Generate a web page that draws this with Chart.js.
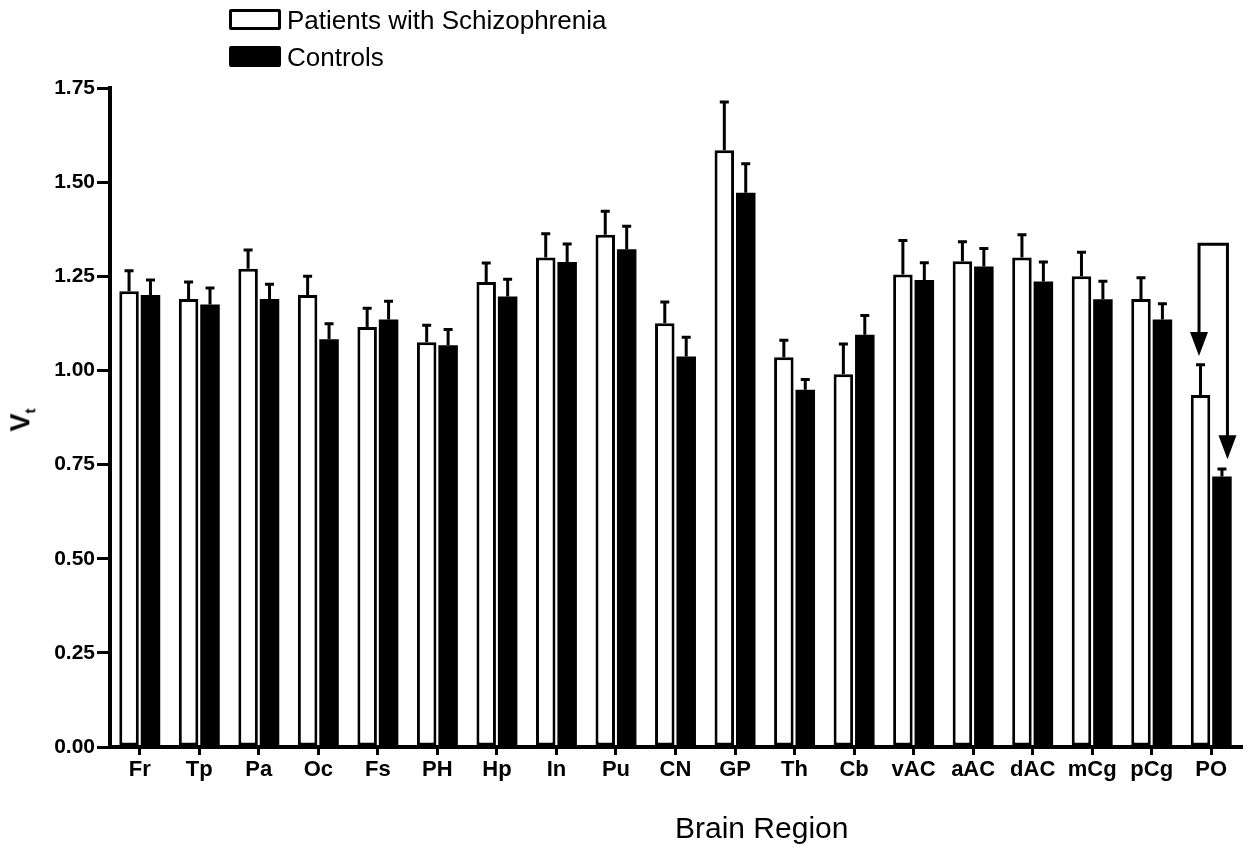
<!DOCTYPE html>
<html>
<head>
<meta charset="utf-8">
<title>Vt by brain region</title>
<script src="https://cdn.jsdelivr.net/npm/chart.js@4.4.1/dist/chart.umd.min.js"></script>
<style>
  html, body { margin: 0; padding: 0; background: #fff; }
  #wrap { position: relative; width: 1257px; height: 848px; font-family: "Liberation Sans", Arial, sans-serif; color: #000; }
  #chart { position: absolute; left: 0; top: 0; }
  .legend-box { position: absolute; left: 229px; width: 52px; height: 21px; box-sizing: border-box; border: 3px solid #000; border-radius: 2px; }
  .legend-text { position: absolute; left: 287px; font-size: 26px; line-height: 26px; white-space: nowrap; }
  #ytitle { position: absolute; left: 22px; top: 420px; transform: translate(-50%, -50%) rotate(-90deg); font-size: 27px; font-weight: bold; white-space: nowrap; }
  #ytitle sub { font-size: 15px; }
  #xtitle { position: absolute; left: 675px; top: 812px; font-size: 30px; line-height: 32px; white-space: nowrap; }
</style>
</head>
<body>
<div id="wrap">
  <canvas id="chart" width="1257" height="848"></canvas>
  <div class="legend-box" style="top:9px;background:#fff;"></div>
  <div class="legend-text" style="top:7px;">Patients with Schizophrenia</div>
  <div class="legend-box" style="top:46px;background:#000;"></div>
  <div class="legend-text" style="top:44px;">Controls</div>
  <div id="ytitle">V<sub>t</sub></div>
  <div id="xtitle">Brain Region</div>
</div>
<script>
// regiões cerebrais (eixo x)
const regions = ["Fr", "Tp", "Pa", "Oc", "Fs", "PH", "Hp", "In", "Pu", "CN", "GP", "Th", "Cb", "vAC", "aAC", "dAC", "mCg", "pCg", "PO"];

// médias de Vt e erro padrão (só a barra superior é desenhada)
const patients    = [1.21, 1.19, 1.27, 1.20, 1.115, 1.075, 1.235, 1.30, 1.36, 1.125, 1.585, 1.035, 0.99, 1.255, 1.29, 1.30, 1.25, 1.19, 0.935];
const patientsErr = [0.055, 0.045, 0.05, 0.05, 0.05, 0.045, 0.05, 0.063, 0.063, 0.057, 0.128, 0.045, 0.08, 0.09, 0.052, 0.06, 0.064, 0.056, 0.08];
const controls    = [1.20, 1.175, 1.19, 1.083, 1.135, 1.067, 1.196, 1.288, 1.322, 1.037, 1.472, 0.949, 1.095, 1.24, 1.276, 1.236, 1.189, 1.135, 0.718];
const controlsErr = [0.04, 0.044, 0.039, 0.041, 0.049, 0.042, 0.046, 0.048, 0.061, 0.051, 0.077, 0.027, 0.051, 0.046, 0.048, 0.052, 0.048, 0.042, 0.02];

// ticks do eixo y
const yTicks = [0, 0.25, 0.5, 0.75, 1.0, 1.25, 1.5, 1.75];

// colchete com setas sobre PO (valores em Vt)
const bracketRegion = "PO";
const bracketTop = 1.335;
const arrowTips = [1.038, 0.764];

const errors = [patientsErr, controlsErr];

// Barras de erro (só para cima, com "chapéu")
const errorBarsPlugin = {
  id: "errorBars",
  afterDatasetsDraw(chart) {
    const ctx = chart.ctx;
    const y = chart.scales.y;
    ctx.save();
    ctx.strokeStyle = "#000";
    ctx.lineWidth = 3;
    chart.data.datasets.forEach((ds, i) => {
      const meta = chart.getDatasetMeta(i);
      meta.data.forEach((bar, j) => {
        const top = y.getPixelForValue(ds.data[j] + errors[i][j]);
        ctx.beginPath();
        ctx.moveTo(bar.x, bar.y);
        ctx.lineTo(bar.x, top);
        ctx.moveTo(bar.x - 4.5, top);
        ctx.lineTo(bar.x + 4.5, top);
        ctx.stroke();
      });
    });
    ctx.restore();
  }
};

// Colchete e setas apontando para as duas barras de PO
const bracketPlugin = {
  id: "bracket",
  afterDatasetsDraw(chart) {
    const ctx = chart.ctx;
    const y = chart.scales.y;
    const idx = regions.indexOf(bracketRegion);
    const xs = [chart.getDatasetMeta(0).data[idx].x - 1.5, chart.getDatasetMeta(1).data[idx].x + 5.5];
    const yTop = y.getPixelForValue(bracketTop);
    ctx.save();
    ctx.strokeStyle = "#000";
    ctx.fillStyle = "#000";
    ctx.lineWidth = 3;
    ctx.beginPath();
    ctx.moveTo(xs[0], y.getPixelForValue(arrowTips[0]) - 20);
    ctx.lineTo(xs[0], yTop);
    ctx.lineTo(xs[1], yTop);
    ctx.lineTo(xs[1], y.getPixelForValue(arrowTips[1]) - 20);
    ctx.stroke();
    xs.forEach((x, k) => {
      const tip = y.getPixelForValue(arrowTips[k]);
      ctx.beginPath();
      ctx.moveTo(x - 9, tip - 24);
      ctx.lineTo(x + 9, tip - 24);
      ctx.lineTo(x, tip);
      ctx.closePath();
      ctx.fill();
    });
    ctx.restore();
  }
};

const ctx = document.getElementById("chart").getContext("2d");
new Chart(ctx, {
  type: "bar",
  data: {
    labels: regions,
    datasets: [
      {
        label: "Patients with Schizophrenia",
        data: patients,
        backgroundColor: "#fff",
        borderColor: "#000",
        borderWidth: 3,
        borderSkipped: false
      },
      {
        label: "Controls",
        data: controls,
        backgroundColor: "#000",
        borderWidth: 0
      }
    ]
  },
  options: {
    responsive: false,
    animation: false,
    layout: { padding: { top: 88, right: 16, left: 0, bottom: 0 } },
    datasets: { bar: { categoryPercentage: 0.72, barPercentage: 0.91 } },
    plugins: { legend: { display: false }, tooltip: { enabled: false } },
    scales: {
      x: {
        afterFit(scale) { scale.height = 101; },
        grid: { offset: false, drawOnChartArea: false, color: "#000", lineWidth: 3, tickLength: 8 },
        border: { display: true, color: "#000", width: 4 },
        ticks: {
          color: "#000",
          autoSkip: false,
          maxRotation: 0,
          padding: 2,
          font: { family: "Liberation Sans", size: 22, weight: "bold" }
        }
      },
      y: {
        min: 0,
        max: 1.75,
        afterFit(scale) { scale.width = 110; },
        afterBuildTicks(scale) { scale.ticks = yTicks.map(v => ({ value: v })); },
        grid: { drawOnChartArea: false, color: "#000", lineWidth: 3, tickLength: 13 },
        border: { display: true, color: "#000", width: 4 },
        ticks: {
          color: "#000",
          padding: 2,
          font: { family: "Liberation Sans", size: 21, weight: "bold" },
          callback: v => v.toFixed(2)
        }
      }
    }
  },
  plugins: [errorBarsPlugin, bracketPlugin]
});
</script>
</body>
</html>
